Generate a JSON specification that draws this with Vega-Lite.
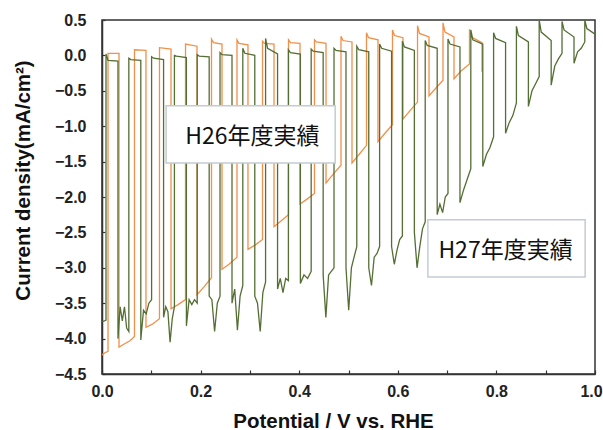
{
"$schema":"https://vega.github.io/schema/vega-lite/v6.json",
"width":493,"height":354,
"autosize":{"type":"none"},
"padding":{"left":102,"top":20,"right":8,"bottom":56},
"background":"white",
"config":{"view":{"stroke":"#333","strokeWidth":1.5}},
"datasets":{
"h26":[
{"i":1,"v":0,"c":-4.23},{"i":2,"v":0.0061,"c":-4.2},{"i":3,"v":0.0122,"c":-4.18},{"i":4,"v":0.0122,"c":0.03},{"i":5,"v":0.0345,"c":0.03},{"i":6,"v":0.0345,"c":-4.12},{"i":7,"v":0.0467,"c":-4.07},{"i":8,"v":0.0568,"c":-4.03},{"i":9,"v":0.0659,"c":-3.97},{"i":10,"v":0.0659,"c":0.08},
{"i":11,"v":0.0892,"c":0.07},{"i":12,"v":0.0892,"c":-3.84},{"i":13,"v":0.1014,"c":-3.8},{"i":14,"v":0.1166,"c":-3.72},{"i":15,"v":0.1166,"c":0.11},{"i":16,"v":0.14,"c":0.09},{"i":17,"v":0.14,"c":-3.58},{"i":18,"v":0.1542,"c":-3.52},{"i":19,"v":0.1694,"c":-3.45},{"i":20,"v":0.1694,"c":0.16},
{"i":21,"v":0.1927,"c":0.13},{"i":22,"v":0.1927,"c":-3.38},{"i":23,"v":0.2069,"c":-3.27},{"i":24,"v":0.2221,"c":-3.14},{"i":25,"v":0.2221,"c":0.23},{"i":26,"v":0.2262,"c":0.18},{"i":27,"v":0.2434,"c":0.16},{"i":28,"v":0.2434,"c":-3.02},{"i":29,"v":0.2576,"c":-2.95},{"i":30,"v":0.2738,"c":-2.85},
{"i":31,"v":0.2738,"c":0.22},{"i":32,"v":0.2779,"c":0.17},{"i":33,"v":0.2961,"c":0.15},{"i":34,"v":0.2961,"c":-2.74},{"i":35,"v":0.3103,"c":-2.68},{"i":36,"v":0.3256,"c":-2.6},{"i":37,"v":0.3256,"c":0.2},{"i":38,"v":0.3296,"c":0.17},{"i":39,"v":0.3489,"c":0.16},{"i":40,"v":0.3489,"c":-2.42},
{"i":41,"v":0.3631,"c":-2.34},{"i":42,"v":0.3783,"c":-2.25},{"i":43,"v":0.3783,"c":0.22},{"i":44,"v":0.3824,"c":0.18},{"i":45,"v":0.4016,"c":0.17},{"i":46,"v":0.4016,"c":-2.1},{"i":47,"v":0.4158,"c":-2.03},{"i":48,"v":0.431,"c":-1.95},{"i":49,"v":0.431,"c":0.22},{"i":50,"v":0.4351,"c":0.19},
{"i":51,"v":0.4544,"c":0.17},{"i":52,"v":0.4544,"c":-1.8},{"i":53,"v":0.4686,"c":-1.68},{"i":54,"v":0.4848,"c":-1.55},{"i":55,"v":0.4848,"c":0.27},{"i":56,"v":0.4888,"c":0.21},{"i":57,"v":0.5071,"c":0.19},{"i":58,"v":0.5071,"c":-1.52},{"i":59,"v":0.5213,"c":-1.4},{"i":60,"v":0.5365,"c":-1.27},
{"i":61,"v":0.5365,"c":0.32},{"i":62,"v":0.5406,"c":0.25},{"i":63,"v":0.5598,"c":0.22},{"i":64,"v":0.5598,"c":-1.22},{"i":65,"v":0.574,"c":-1.1},{"i":66,"v":0.5892,"c":-0.98},{"i":67,"v":0.5892,"c":0.36},{"i":68,"v":0.5933,"c":0.28},{"i":69,"v":0.6105,"c":0.25},{"i":70,"v":0.6105,"c":-0.9},
{"i":71,"v":0.6247,"c":-0.78},{"i":72,"v":0.64,"c":-0.66},{"i":73,"v":0.64,"c":0.42},{"i":74,"v":0.644,"c":0.31},{"i":75,"v":0.6633,"c":0.26},{"i":76,"v":0.6633,"c":-0.57},{"i":77,"v":0.6775,"c":-0.46},{"i":78,"v":0.6917,"c":-0.35},{"i":79,"v":0.6917,"c":0.46},{"i":80,"v":0.6957,"c":0.33},
{"i":81,"v":0.714,"c":0.26},{"i":82,"v":0.714,"c":-0.33},{"i":83,"v":0.7282,"c":-0.22},{"i":84,"v":0.7454,"c":-0.12},{"i":85,"v":0.7454,"c":0.37},{"i":86,"v":0.7495,"c":0.26},{"i":87,"v":0.7708,"c":0.18},{"i":88,"v":0.7708,"c":-0.23}
],
"h27":[
{"i":1,"v":0,"c":-3.76},{"i":2,"v":0.0051,"c":-3.75},{"i":3,"v":0.0081,"c":-3.74},{"i":4,"v":0.0081,"c":0.02},{"i":5,"v":0.0122,"c":-0.07},{"i":6,"v":0.0324,"c":-0.08},
{"i":7,"v":0.0324,"c":-4.0},{"i":8,"v":0.0368,"c":-3.55},{"i":9,"v":0.0412,"c":-3.75},{"i":10,"v":0.0456,"c":-3.55},{"i":11,"v":0.05,"c":-3.85},{"i":12,"v":0.0544,"c":-3.9},
{"i":13,"v":0.0544,"c":-0.04},{"i":14,"v":0.0585,"c":-0.06},{"i":15,"v":0.0787,"c":-0.07},
{"i":16,"v":0.0787,"c":-4.02},{"i":17,"v":0.0842,"c":-3.6},{"i":18,"v":0.0897,"c":-3.65},{"i":19,"v":0.0951,"c":-3.5},{"i":20,"v":0.1006,"c":-3.45},
{"i":21,"v":0.1006,"c":-0.02},{"i":22,"v":0.1047,"c":-0.04},{"i":23,"v":0.1249,"c":-0.06},
{"i":24,"v":0.1249,"c":-3.7},{"i":25,"v":0.1293,"c":-3.55},{"i":26,"v":0.1337,"c":-3.62},{"i":27,"v":0.1381,"c":-4.05},{"i":28,"v":0.1425,"c":-3.72},{"i":29,"v":0.1469,"c":-3.55},
{"i":30,"v":0.1469,"c":0.0},{"i":31,"v":0.151,"c":-0.01},{"i":32,"v":0.1712,"c":-0.03},
{"i":33,"v":0.1712,"c":-3.82},{"i":34,"v":0.1767,"c":-3.45},{"i":35,"v":0.1822,"c":-3.52},{"i":36,"v":0.1876,"c":-3.45},{"i":37,"v":0.1931,"c":-3.5},
{"i":38,"v":0.1931,"c":0.01},{"i":39,"v":0.1972,"c":-0.01},{"i":40,"v":0.2174,"c":-0.02},
{"i":41,"v":0.2174,"c":-3.4},{"i":42,"v":0.2229,"c":-3.45},{"i":43,"v":0.2284,"c":-3.9},{"i":44,"v":0.2339,"c":-3.5},{"i":45,"v":0.2394,"c":-3.4},
{"i":46,"v":0.2394,"c":0.04},{"i":47,"v":0.2435,"c":0.01},{"i":48,"v":0.2637,"c":0.0},
{"i":49,"v":0.2637,"c":-3.5},{"i":50,"v":0.2692,"c":-3.3},{"i":51,"v":0.2747,"c":-3.88},{"i":52,"v":0.2801,"c":-3.4},{"i":53,"v":0.2856,"c":-3.25},
{"i":54,"v":0.2856,"c":0.1},{"i":55,"v":0.2897,"c":0.03},{"i":56,"v":0.3099,"c":0.0},
{"i":57,"v":0.3099,"c":-3.4},{"i":58,"v":0.3154,"c":-3.5},{"i":59,"v":0.3209,"c":-3.9},{"i":60,"v":0.3263,"c":-3.35},{"i":61,"v":0.3318,"c":-3.2},
{"i":62,"v":0.3318,"c":0.24},{"i":63,"v":0.3359,"c":0.1},{"i":64,"v":0.3561,"c":0.02},
{"i":65,"v":0.3561,"c":-3.3},{"i":66,"v":0.3616,"c":-3.15},{"i":67,"v":0.3671,"c":-3.35},{"i":68,"v":0.3726,"c":-3.15},{"i":69,"v":0.3781,"c":-3.18},
{"i":70,"v":0.3781,"c":0.08},{"i":71,"v":0.3822,"c":0.04},{"i":72,"v":0.4024,"c":0.02},
{"i":73,"v":0.4024,"c":-3.22},{"i":74,"v":0.4097,"c":-3.1},{"i":75,"v":0.417,"c":-3.15},{"i":76,"v":0.4243,"c":-3.05},
{"i":77,"v":0.4243,"c":0.09},{"i":78,"v":0.4284,"c":0.06},{"i":79,"v":0.4486,"c":0.04},
{"i":80,"v":0.4486,"c":-3.1},{"i":81,"v":0.4541,"c":-3.7},{"i":82,"v":0.4596,"c":-3.1},{"i":83,"v":0.4651,"c":-3.05},{"i":84,"v":0.4706,"c":-3.0},
{"i":85,"v":0.4706,"c":0.1},{"i":86,"v":0.4747,"c":0.07},{"i":87,"v":0.4949,"c":0.05},
{"i":88,"v":0.4949,"c":-3.0},{"i":89,"v":0.5004,"c":-3.6},{"i":90,"v":0.5059,"c":-3.0},{"i":91,"v":0.5113,"c":-2.85},{"i":92,"v":0.5168,"c":-2.7},
{"i":93,"v":0.5168,"c":0.13},{"i":94,"v":0.5209,"c":0.08},{"i":95,"v":0.5411,"c":0.05},
{"i":96,"v":0.5411,"c":-3.0},{"i":97,"v":0.5466,"c":-3.25},{"i":98,"v":0.5521,"c":-2.85},{"i":99,"v":0.5576,"c":-2.8},{"i":100,"v":0.5631,"c":-2.7},
{"i":101,"v":0.5631,"c":0.16},{"i":102,"v":0.5672,"c":0.1},{"i":103,"v":0.5874,"c":0.06},
{"i":104,"v":0.5874,"c":-2.7},{"i":105,"v":0.5929,"c":-2.95},{"i":106,"v":0.5984,"c":-2.75},{"i":107,"v":0.6038,"c":-2.6},{"i":108,"v":0.6093,"c":-2.55},
{"i":109,"v":0.6093,"c":0.2},{"i":110,"v":0.6134,"c":0.12},{"i":111,"v":0.6336,"c":0.07},
{"i":112,"v":0.6336,"c":-2.5},{"i":113,"v":0.6391,"c":-3.0},{"i":114,"v":0.6446,"c":-2.7},{"i":115,"v":0.6501,"c":-2.45},{"i":116,"v":0.6556,"c":-2.35},
{"i":117,"v":0.6556,"c":0.21},{"i":118,"v":0.6597,"c":0.14},{"i":119,"v":0.6799,"c":0.1},
{"i":120,"v":0.6799,"c":-2.25},{"i":121,"v":0.6854,"c":-2.1},{"i":122,"v":0.6909,"c":-2.22},{"i":123,"v":0.6963,"c":-2.0},{"i":124,"v":0.7018,"c":-1.95},
{"i":125,"v":0.7018,"c":0.23},{"i":126,"v":0.7059,"c":0.16},{"i":127,"v":0.7261,"c":0.12},
{"i":128,"v":0.7261,"c":-2.08},{"i":129,"v":0.7334,"c":-1.9},{"i":130,"v":0.7408,"c":-1.75},{"i":131,"v":0.7481,"c":-1.6},
{"i":132,"v":0.7481,"c":0.36},{"i":133,"v":0.7522,"c":0.22},{"i":134,"v":0.7724,"c":0.16},
{"i":135,"v":0.7724,"c":-1.57},{"i":136,"v":0.7797,"c":-1.4},{"i":137,"v":0.787,"c":-1.3},{"i":138,"v":0.7943,"c":-1.15},
{"i":139,"v":0.7943,"c":0.32},{"i":140,"v":0.7984,"c":0.24},{"i":141,"v":0.8186,"c":0.18},
{"i":142,"v":0.8186,"c":-1.1},{"i":143,"v":0.8259,"c":-0.95},{"i":144,"v":0.8333,"c":-0.85},{"i":145,"v":0.8406,"c":-0.67},
{"i":146,"v":0.8406,"c":0.41},{"i":147,"v":0.8447,"c":0.28},{"i":148,"v":0.8649,"c":0.19},
{"i":149,"v":0.8649,"c":-0.72},{"i":150,"v":0.8722,"c":-0.5},{"i":151,"v":0.8795,"c":-0.4},{"i":152,"v":0.8868,"c":-0.3},
{"i":153,"v":0.8868,"c":0.5},{"i":154,"v":0.8909,"c":0.33},{"i":155,"v":0.9111,"c":0.21},
{"i":156,"v":0.9111,"c":-0.42},{"i":157,"v":0.9184,"c":-0.15},{"i":158,"v":0.9258,"c":-0.05},{"i":159,"v":0.9331,"c":0.03},
{"i":160,"v":0.9331,"c":0.48},{"i":161,"v":0.9372,"c":0.36},{"i":162,"v":0.9574,"c":0.26},
{"i":163,"v":0.9574,"c":-0.11},{"i":164,"v":0.9647,"c":0.05},{"i":165,"v":0.972,"c":0.1},{"i":166,"v":0.9793,"c":0.19},
{"i":167,"v":0.9793,"c":0.5},{"i":168,"v":0.9834,"c":0.38},{"i":169,"v":1.0,"c":0.3}
],
"boxes":[
{"v":0.130,"v2":0.473,"c":-0.71,"c2":-1.52},
{"v":0.661,"v2":0.980,"c":-2.32,"c2":-3.13}
],
"labels":[
{"v":0.305,"c":-1.15,"t":"H26年度実績"},
{"v":0.8185,"c":-2.76,"t":"H27年度実績"}
]
},
"encoding":{
"x":{"field":"v","type":"quantitative","title":"Potential / V vs. RHE",
 "scale":{"domain":[0,1],"nice":false,"zero":false},
 "axis":{"values":[0,0.1,0.2,0.3,0.4,0.5,0.6,0.7,0.8,0.9,1.0],
  "labelExpr":"round(datum.value*10) % 2 === 0 ? format(datum.value, '.1f') : ''",
  "labelFlush":false,"labelOverlap":false,
  "labelOffset":{"condition":{"test":"datum.value > 0.95","value":-4},"value":0},
  "grid":false,"domainColor":"#333","domainWidth":1.5,"tickColor":"#333","tickWidth":1.2,"tickSize":-4,
  "labelFont":"Liberation Sans","labelFontWeight":"bold","labelFontSize":16,"labelColor":"#222","labelPadding":13,
  "titleFont":"Liberation Sans","titleFontWeight":"bold","titleFontSize":20.5,"titleColor":"#111",
  "titleX":231,"titleY":53,"titleBaseline":"alphabetic","titleAlign":"center"}},
"y":{"field":"c","type":"quantitative","title":"Current density(mA/cm²)",
 "scale":{"domain":[-4.5,0.5],"nice":false,"zero":false},
 "axis":{"values":[0.5,0,-0.5,-1,-1.5,-2,-2.5,-3,-3.5,-4,-4.5],"format":".1f",
  "labelFlush":false,"labelOverlap":false,
  "grid":false,"domainColor":"#333","domainWidth":1.5,"tickColor":"#333","tickWidth":1.2,"tickSize":-3,
  "labelFont":"Liberation Sans","labelFontWeight":"bold","labelFontSize":16,"labelColor":"#222","labelPadding":19,
  "titleFont":"Liberation Sans","titleFontWeight":"bold","titleFontSize":20.5,"titleColor":"#111",
  "titleX":-79,"titleY":160,"titleBaseline":"middle","titleAngle":-90,"titleAlign":"center"}}
},
"layer":[
{"data":{"name":"h26"},"mark":{"type":"line","color":"#F0904A","strokeWidth":1.3,"clip":true},
 "encoding":{"order":{"field":"i","type":"quantitative"}}},
{"data":{"name":"h27"},"mark":{"type":"line","color":"#546E34","strokeWidth":1.3,"clip":true},
 "encoding":{"order":{"field":"i","type":"quantitative"}}},
{"data":{"name":"boxes"},"mark":{"type":"rect","fill":"white","stroke":"#c3ccd4","strokeWidth":1.5},
 "encoding":{"x2":{"field":"v2"},"y2":{"field":"c2"}}},
{"data":{"name":"labels"},"mark":{"type":"text","font":"Noto Sans CJK JP","fontSize":23,"color":"#111","align":"center","baseline":"middle"},
 "encoding":{"text":{"field":"t","type":"nominal"}}}
]
}
